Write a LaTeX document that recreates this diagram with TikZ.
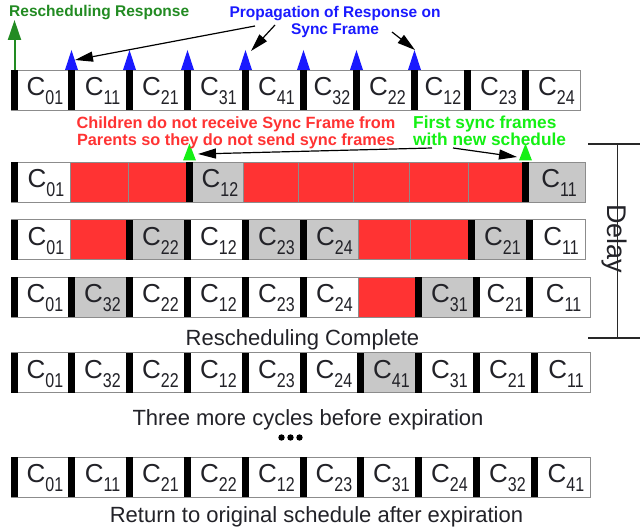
\documentclass[tikz,border=0pt]{standalone}
\usepackage{fontspec}
\setmainfont{Liberation Sans}
\usepackage{graphicx}
\usetikzlibrary{arrows.meta}

\definecolor{cellgray}{RGB}{200,200,200}
\definecolor{cellred}{RGB}{255,51,51}
\definecolor{cellline}{RGB}{140,140,140}
\definecolor{ink}{RGB}{34,34,40}
\definecolor{respgreen}{RGB}{34,139,34}
\definecolor{syncblue}{RGB}{26,26,255}
\definecolor{notered}{RGB}{255,51,51}
\definecolor{newgreen}{RGB}{20,240,20}
\definecolor{delayline}{RGB}{40,40,40}

\tikzset{
  cellbase/.style={draw=cellline, line width=0.8pt, anchor=north west,
    minimum height=40pt, inner sep=0pt, outer sep=0pt},
  cellw/.style={cellbase, fill=white},
  cellg/.style={cellbase, fill=cellgray},
  cellr/.style={cellbase, fill=cellred},
  slotlabel/.style={anchor=base, text=ink, inner sep=0pt},
  syncbar/.style={fill=black},
  pointer/.style={draw=black, line width=1.2pt, -{Triangle[length=18pt,width=10pt]}},
  note/.style={font=\fontsize{15.5}{17.5}\selectfont\bfseries, inner sep=0pt},
  bignote/.style={font=\fontsize{16.3}{16.8}\selectfont\bfseries, inner sep=0pt},
  greennote/.style={font=\fontsize{17.3}{17}\selectfont\bfseries, inner sep=0pt},
  caption/.style={font=\fontsize{22}{24}\selectfont, text=ink, anchor=base, inner sep=0pt},
}

% slot label: C with a lowered, slightly narrowed two-digit index
\newcommand\slotname[1]{{\fontsize{26}{26}\selectfont C}\raisebox{-9pt}{\scalebox{0.8}[1]{\fontsize{20}{20}\selectfont #1}}}

% one schedule row: #1 name, #2 top, #3 slot boundaries, #4 kind/index list
\newcommand\schedrow[4]{%
  \foreach \kind/\sub [count=\i from 0] in {#4} {
    \pgfmathsetmacro\xl{{#3}[\i]}
    \pgfmathsetmacro\xr{{#3}[\i+1]}
    \pgfmathsetmacro\cellwd{\xr-\xl}
    \node[cell\kind, minimum width=\cellwd pt] (#1-\i) at (\xl,#2) {};
    \if\kind r\else
      \fill[syncbar] (#1-\i.north west) rectangle ++(7,40);
      \pgfmathsetmacro\xc{(\xl+7+\xr)/2+2}
      \node[slotlabel] (#1-\i-txt) at (\xc,#2+25.5) {\slotname{\sub}};
    \fi
  }%
}

\begin{document}
\begin{tikzpicture}[x=1pt, y=-1pt]
\path[use as bounding box, fill=white] (0,0) rectangle (640,532);

% schedules
\schedrow{rowA}{70}{11,68,126,184,242,300,353,411,464,522,580}
  {w/01,w/11,w/21,w/31,w/41,w/32,w/22,w/12,w/23,w/24}
\schedrow{rowB}{162}{11,70,128,186,243,298,353,409,468,522,585}
  {w/01,r/-,r/-,g/12,r/-,r/-,r/-,r/-,r/-,g/11}
\schedrow{rowC}{219.5}{11,70,126,184,242,300,358,410,468,526,585}
  {w/01,r/-,g/22,w/12,g/23,g/24,r/-,r/-,g/21,w/11}
\schedrow{rowD}{277}{11,68,126,184,242,300,358,415,473,526,590}
  {w/01,g/32,w/22,w/12,w/23,w/24,r/-,g/31,w/21,w/11}
\schedrow{rowE}{352.5}{11,68,126,184,242,300,357,415,473,531,590}
  {w/01,w/32,w/22,w/12,w/23,w/24,g/41,w/31,w/21,w/11}
\schedrow{rowF}{457}{11,68,126,184,242,300,357,415,473,531,590}
  {w/01,w/11,w/21,w/22,w/12,w/23,w/31,w/24,w/32,w/41}

% rescheduling response leaving the root
\draw[respgreen, line width=2pt, -{Triangle[length=20pt,width=13pt]}]
  (rowA-0.north west) ++(3.5,0) -- ++(0,-50);
\node[note, text=respgreen, anchor=base west] (resptxt) at (9,17) {Rescheduling Response};

% sync frames carrying the response
\foreach \k in {1,...,7} {
  \path (rowA-\k.north west) ++(3.5,0) coordinate (sync\k);
  \fill[syncblue] (sync\k) ++(-6.5,0) -- ++(13,0) -- ++(-6.5,-20) -- cycle;
}
\node[note, text=syncblue, align=center, anchor=north] (proptxt) at (335,6)
  {Propagation of Response on\\Sync Frame};
\coordinate (propA) at (255,26);
\coordinate (propB) at (275,25);
\coordinate (propC) at (392,32);
\coordinate (hitA) at (75,60);
\coordinate (hitB) at (251,51);
\coordinate (hitC) at (415,50);
\draw[pointer] (propA) -- (hitA);
\draw[pointer] (propB) -- (hitB);
\draw[pointer] (propC) -- (hitC);

% first sync frames under the new schedule
\foreach \k in {3,9} {
  \path (rowB-\k.north west) ++(3.5,-1.5) coordinate (first\k);
  \fill[newgreen] (first\k) ++(-6.5,0) -- ++(13,0) -- ++(-6.5,-17) -- cycle;
}
\node[bignote, text=notered, align=center, anchor=north] (childtxt) at (236,116.5)
  {Children do not receive Sync Frame from\\Parents so they do not send sync frames};
\node[greennote, text=newgreen, align=left, anchor=north west] (firsttxt) at (413,115.5)
  {First sync frames\\with new schedule};
\coordinate (forkL) at (432,148);
\coordinate (forkR) at (453,148);
\coordinate (hitL) at (198,154);
\coordinate (hitR) at (517,157);
\draw[pointer] (forkL) -- (hitL);
\draw[pointer] (forkR) -- (hitR);

% delay bracket
\node[font=\fontsize{27}{27}\selectfont, text=ink, rotate=-90, anchor=base, inner sep=0pt]
  (delaytxt) at (607,239) {Delay};
\coordinate (dTopL) at (588,144);
\coordinate (dTopR) at (640,144);
\coordinate (dBotL) at (588,338);
\coordinate (dBotR) at (640,338);
\coordinate (dTop) at (617.5,144);
\coordinate (dBot) at (617.5,338);
\draw[delayline, line width=1.2pt] (dTopL) -- (dTopR);
\draw[delayline, line width=1.2pt] (dBotL) -- (dBotR);
\draw[delayline, line width=1.2pt] (dTop) -- (dBot);

% captions
\node[caption] (donecap) at (302.5,345) {Rescheduling Complete};
\node[caption] (threecap) at (308,425) {Three more cycles before expiration};
\foreach \d in {0,1,2} \fill[black] (281.5+9*\d,437.5) circle (3.2);
\node[caption] (returncap) at (316.5,522) {Return to original schedule after expiration};
\end{tikzpicture}
\end{document}
